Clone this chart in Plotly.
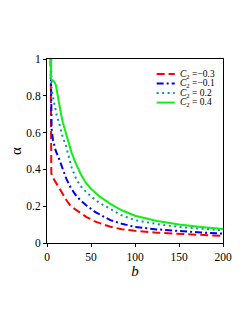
import plotly.graph_objects as go

# ---- data ----
labels = ["<i>C</i><sub>2</sub> =\u22120.3", "<i>C</i><sub>2</sub> =\u22120.1",
          "<i>C</i><sub>2</sub> = 0.2", "<i>C</i><sub>2</sub> = 0.4"]

b_red = [4.2, 4.5, 4.9, 6, 8, 10.5, 15, 21.8, 27, 33, 38, 44.5, 55, 72, 85, 100, 125, 150, 175, 200]
a_red = [1.0, 0.7, 0.38, 0.36, 0.345, 0.33, 0.29, 0.235, 0.2, 0.18, 0.163, 0.142, 0.116, 0.088, 0.075,
         0.066, 0.056, 0.049, 0.043, 0.038]

b_blue = [4.3, 4.8, 5.2, 6.8, 10, 14.3, 18, 21.8, 27, 33, 38, 44.5, 55, 72, 85, 100, 125, 150, 175, 200]
a_blue = [1.0, 0.75, 0.62, 0.56, 0.5, 0.45, 0.40, 0.351, 0.30, 0.258, 0.232, 0.205, 0.168, 0.124, 0.105,
          0.087, 0.074, 0.064, 0.057, 0.051]

b_teal = [4.8, 5.0, 6.5, 8.3, 11.3, 13.6, 17, 21.8, 25, 28, 33, 38, 44.5, 50, 60, 72, 85, 100, 125, 150, 175, 200]
a_teal = [1.0, 0.85, 0.80, 0.75, 0.687, 0.655, 0.59, 0.523, 0.46, 0.41, 0.35, 0.31, 0.278, 0.253, 0.217,
          0.184, 0.15, 0.124, 0.103, 0.087, 0.077, 0.069]

b_green = [4.5, 4.7, 6, 8, 10, 12, 14, 16, 18, 20, 24, 28, 33, 38, 44, 50, 60, 72, 85, 100, 125, 150, 175, 200]
a_green = [1.0, 0.89, 0.885, 0.878, 0.86, 0.80, 0.75, 0.70, 0.655, 0.62, 0.55, 0.49, 0.43, 0.378, 0.328,
           0.295, 0.252, 0.213, 0.178, 0.148, 0.12, 0.10, 0.087, 0.076]

x_ticks = [0, 50, 100, 150, 200]
y_ticks = [0, 0.2, 0.4, 0.6, 0.8, 1]
y_ticktext = ["0", "0.2", "0.4", "0.6", "0.8", "1"]

colors = ["#FF0000", "#0000EE", "#009999", "#11EE11"]
dashes = ["8px,4px", "7px,3px,2px,3px", "2px,3.5px", "solid"]

series = [(b_red, a_red), (b_blue, a_blue), (b_teal, a_teal), (b_green, a_green)]

FONT = "Liberation Serif"

fig = go.Figure()
for (bx, ay), col, d, lab in zip(series, colors, dashes, labels):
    fig.add_trace(go.Scatter(x=bx, y=ay, mode="lines", name=lab,
                             line=dict(color=col, width=2, dash=d), showlegend=False))

# manual compact legend
leg_y = [0.918, 0.867, 0.815, 0.763]
for col, d, lab, yy in zip(colors, dashes, labels, leg_y):
    fig.add_shape(type="line", xref="paper", yref="paper", x0=0.623, x1=0.726, y0=yy, y1=yy,
                  line=dict(color=col, width=2, dash=d))
    fig.add_annotation(xref="paper", yref="paper", x=0.745, y=yy, text=lab, showarrow=False,
                       xanchor="left", yanchor="middle", font=dict(family=FONT, size=9.5, color="black"))

axis_common = dict(showline=True, linecolor="black", linewidth=1, mirror=True,
                   ticks="outside", ticklen=3, tickcolor="black", showgrid=False, zeroline=False,
                   tickfont=dict(family=FONT, size=11.5, color="black"))

fig.update_xaxes(range=[0, 200], tickvals=x_ticks, ticktext=[str(v) for v in x_ticks],
                 title=dict(text="<i>b</i>", font=dict(family=FONT, size=15, color="black"), standoff=0),
                 **axis_common)
fig.update_yaxes(range=[0, 1], tickvals=y_ticks, ticktext=y_ticktext,
                 title=dict(text="\u03b1", font=dict(family=FONT, size=15, color="black"), standoff=8),
                 **axis_common)

fig.update_layout(width=241, height=315, margin=dict(l=39, r=26, t=51, b=80, autoexpand=False),
                  paper_bgcolor="white", plot_bgcolor="white")

fig.write_html("out.html")
